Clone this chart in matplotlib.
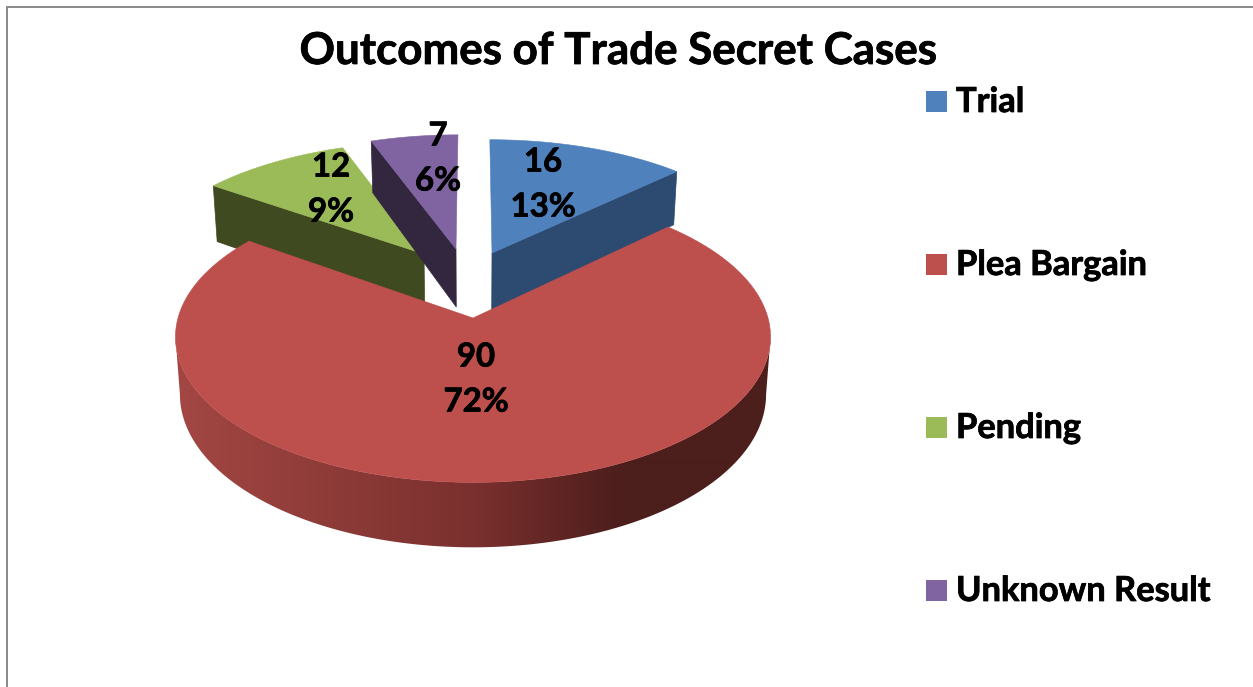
import numpy as np
import matplotlib
matplotlib.use("Agg")
import matplotlib.pyplot as plt
import matplotlib.patheffects as pe
from matplotlib.patches import Polygon, Rectangle
from matplotlib.colors import to_rgb

# --- data ---
title = "Outcomes of Trade Secret Cases"
categories = ["Trial", "Plea Bargain", "Pending", "Unknown Result"]
values = [16, 90, 12, 7]
percent_labels = ["13%", "72%", "9%", "6%"]

# --- styles / layout ---
top_colors = ["#4f81bd", "#bd4f4c", "#9bbb59", "#8064a2"]
side_colors = ["#2d4a70", "#4d1f1d", "#404a20", "#32273f"]
apex = [(492, 253), (473, 318), (424, 254), (456, 249)]
radii = [(282, 128), (295, 143), (282, 127), (282, 129)]
depth = [58, 56.5, 60, 58]
label_pos = [(543, 162, 207), (476, 357, 402), (331, 167, 212), (438, 136, 181)]
legend_y = [102, 265, 428, 591]
AXIS_X = 473
PERSP = 0.13
FONT = "Lato"
BOLDER = [pe.withStroke(linewidth=0.55, foreground="black")]

W, H = 1253, 687
fig = plt.figure(figsize=(W / 100, H / 100), dpi=100, facecolor="white")
ax = fig.add_axes([0, 0, 1, 1])

total = sum(values)
edges = np.concatenate([[0], np.cumsum(values)]) / total * 2 * np.pi


def project(i, theta):
    """Project a point on a slice's rim to the picture (top and bottom faces)."""
    ax_, ay_ = apex[i]
    rx, ry = radii[i]
    u, v = np.sin(theta), np.cos(theta)
    s = 1 / (1 + PERSP * v)
    x = AXIS_X + (ax_ - AXIS_X + rx * u) * s
    y = ay_ - ry * v * s
    xb = AXIS_X + (x - AXIS_X) * 0.985
    yb = y + depth[i] * s
    return x, y, xb, yb


def apex_bottom(i):
    return AXIS_X + (apex[i][0] - AXIS_X) * 0.985, apex[i][1] + depth[i]


def cut_face(i, theta, z):
    x, y, xb, yb = project(i, theta)
    ab = apex_bottom(i)
    ax.add_patch(Polygon([(x, y), apex[i], ab, (xb, yb)], closed=True,
                         fc=side_colors[i], ec=side_colors[i], lw=0.5, zorder=z))


def top_face(i, z):
    th = np.linspace(edges[i], edges[i + 1], 240)
    x, y, _, _ = project(i, th)
    pts = [apex[i]] + list(zip(x, y))
    ax.add_patch(Polygon(pts, closed=True, fc=top_colors[i], ec=top_colors[i],
                         lw=0.4, zorder=z))


# back slices
cut_face(2, edges[2], 1)
top_face(2, 2)
cut_face(3, edges[3], 3)
top_face(3, 4)
cut_face(0, edges[1], 5)
top_face(0, 6)

# main slice outer wall with horizontal shading
left_c = np.array(to_rgb("#a34743"))
mid_c = np.array(to_rgb("#7a302e"))
right_c = np.array(to_rgb("#4c1e1c"))
xs = np.arange(170, 776)
grad = np.zeros((1, len(xs), 3))
for k, xm in enumerate(xs):
    if xm < 475:
        grad[0, k] = left_c + (mid_c - left_c) * max(0, (xm - 175) / 300)
    else:
        grad[0, k] = mid_c + (right_c - mid_c) * min(1, (xm - 475) / 145)
th = np.linspace(edges[1], edges[2], 600)
x, y, xb, yb = project(1, th)
i_r, i_l = np.argmax(x), np.argmin(x)
j_r, j_l = np.argmax(xb), np.argmin(xb)
outline = list(zip(x[i_r:i_l + 1], y[i_r:i_l + 1])) + \
    list(zip(xb[j_l:j_r - 1:-1], yb[j_l:j_r - 1:-1]))
wall = Polygon(outline, closed=True, fc="none", ec="none", transform=ax.transData)
ax.add_patch(wall)
im = ax.imshow(grad, extent=(170, 776, 560, 200), aspect="auto", zorder=7,
               interpolation="bilinear")
im.set_clip_path(wall)
top_face(1, 8)

ax.set_xlim(0, W)
ax.set_ylim(H, 0)
ax.axis("off")

# data labels
for i, (lx, y1, y2) in enumerate(label_pos):
    ax.text(lx, y1, str(values[i]), fontsize=23.7, fontweight="bold", family=FONT,
            color="black", ha="center", va="center", zorder=10, path_effects=BOLDER)
    ax.text(lx, y2, percent_labels[i], fontsize=23.7, fontweight="bold", family=FONT,
            color="black", ha="center", va="center", zorder=10, path_effects=BOLDER)

# title
ax.text(618, 51, title, fontsize=31.6, fontweight="bold", family=FONT, color="black",
        ha="center", va="center", zorder=10, path_effects=BOLDER)

# legend
for i, yc in enumerate(legend_y):
    ax.add_patch(Rectangle((926, yc - 11.5), 21, 21, fc=top_colors[i], ec="none", zorder=10))
    ax.text(956, yc, categories[i], fontsize=24.8, fontweight="bold", family=FONT,
            color="black", ha="left", va="center", zorder=10, path_effects=BOLDER)

# chart border
ax.plot([7, 7, W], [H, 7, 7], color="#8c8c8c", lw=1.44, solid_joinstyle="miter", zorder=11)

fig.savefig("out.png", dpi=100, facecolor="white")
